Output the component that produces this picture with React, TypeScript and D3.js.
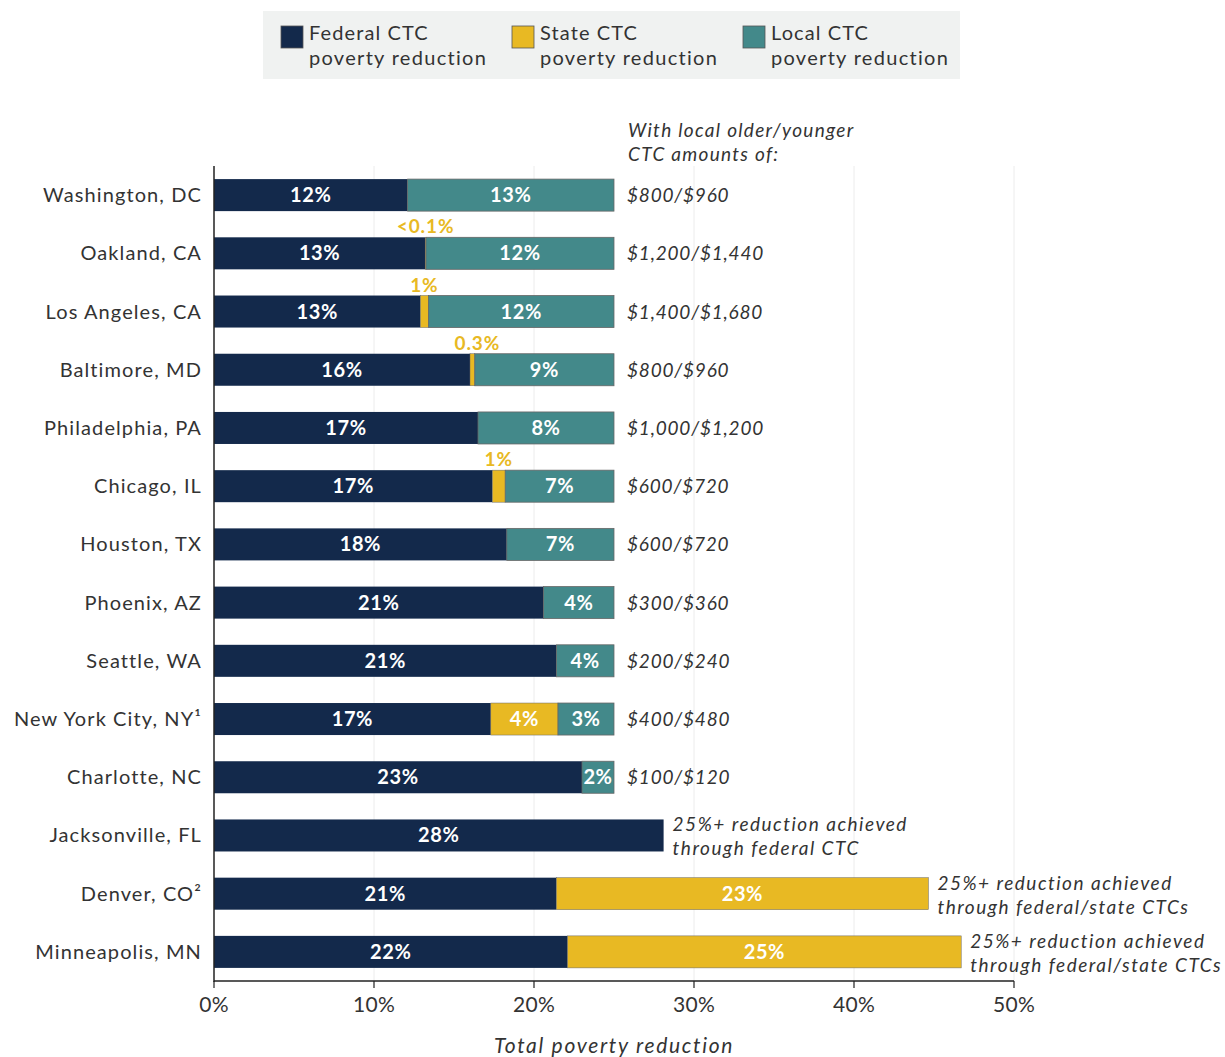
import React from "react";
import * as d3 from "d3";

const cities = [
  "Washington, DC", "Oakland, CA", "Los Angeles, CA", "Baltimore, MD", "Philadelphia, PA",
  "Chicago, IL", "Houston, TX", "Phoenix, AZ", "Seattle, WA", "New York City, NY¹",
  "Charlotte, NC", "Jacksonville, FL", "Denver, CO²", "Minneapolis, MN",
];
const federal = [12.1, 13.2, 12.9, 16.0, 16.5, 17.4, 18.3, 20.6, 21.4, 17.3, 23.0, 28.1, 21.4, 22.1];
const state = [0, 0.05, 0.5, 0.3, 0, 0.8, 0, 0, 0, 4.2, 0, 0, 23.25, 24.6];
const local = [12.9, 11.75, 11.6, 8.7, 8.5, 6.8, 6.7, 4.4, 3.6, 3.5, 2.0, 0, 0, 0];
const federalLabels = ["12%", "13%", "13%", "16%", "17%", "17%", "18%", "21%", "21%", "17%", "23%", "28%", "21%", "22%"];
const stateLabels = ["", "<0.1%", "1%", "0.3%", "", "1%", "", "", "", "4%", "", "", "23%", "25%"];
const localLabels = ["13%", "12%", "12%", "9%", "8%", "7%", "7%", "4%", "4%", "3%", "2%", "", "", ""];
const stateInside = [false, false, false, false, false, false, false, false, false, true, false, false, true, true];
const amounts = [
  "$800/$960", "$1,200/$1,440", "$1,400/$1,680", "$800/$960", "$1,000/$1,200",
  "$600/$720", "$600/$720", "$300/$360", "$200/$240", "$400/$480", "$100/$120",
];
const notes: Record<number, string[]> = {
  11: ["25%+ reduction achieved", "through federal CTC"],
  12: ["25%+ reduction achieved", "through federal/state CTCs"],
  13: ["25%+ reduction achieved", "through federal/state CTCs"],
};
const xTicks = [0, 10, 20, 30, 40, 50];
const legendItems = [
  { key: "Federal CTC", color: "#13294b" },
  { key: "State CTC", color: "#e8b923" },
  { key: "Local CTC", color: "#43898a" },
];

const NAVY = "#13294b";
const YELLOW = "#e8b923";
const TEAL = "#43898a";
const FONT = "Lato, 'Open Sans', sans-serif";

export default function App() {
  const W = 1225, H = 1057;
  const x = d3.scaleLinear().domain([0, 50]).range([214, 1014]);
  const y = d3.scaleBand<number>().domain(d3.range(cities.length)).range([166, 981]).paddingInner(0.45).paddingOuter(0.225);
  const bh = y.bandwidth();
  return (
    <svg width={W} height={H} style={{ position: "absolute", left: 0, top: 0, fontFamily: FONT }}>
      <rect width={W} height={H} fill="#fff" />
      {/* legend */}
      <rect x={263} y={11} width={697} height={68} fill="#f0f2f1" />
      {legendItems.map((l, i) => {
        const lx = [281, 512, 743][i];
        return (
          <g key={l.key}>
            <rect x={lx} y={26} width={22} height={22} fill={l.color} stroke="#555" strokeWidth={0.8} />
            <text x={lx + 28} y={40} fontSize={20} letterSpacing={1.1} fill="#333">{l.key}</text>
            <text x={lx + 28} y={65} fontSize={20} letterSpacing={1.3} fill="#333">poverty reduction</text>
          </g>
        );
      })}
      {/* grid */}
      {xTicks.slice(1).map((t) => (
        <line key={t} x1={x(t)} x2={x(t)} y1={166} y2={981} stroke="#ececec" strokeWidth={1} />
      ))}
      {/* header */}
      <text x={628} y={137} fontSize={19} fontStyle="italic" letterSpacing={1.3} fill="#333">With local older/younger</text>
      <text x={628} y={161} fontSize={19} fontStyle="italic" letterSpacing={1.3} fill="#333">CTC amounts of:</text>
      {cities.map((c, i) => {
        const yy = y(i)!;
        const cy = yy + bh / 2;
        const f0 = 0, f1 = federal[i], s1 = f1 + state[i], l1 = s1 + local[i];
        return (
          <g key={c}>
            <text x={202} y={cy + 7} fontSize={20} letterSpacing={1.1} textAnchor="end" fill="#333">{c}</text>
            <rect x={x(f0)} y={yy} width={x(f1) - x(f0)} height={bh} fill={NAVY} />
            {state[i] > 0 && (
              <rect x={x(f1)} y={yy} width={Math.max(x(s1) - x(f1), 0.8)} height={bh} fill={YELLOW} stroke="#666" strokeWidth={0.5} />
            )}
            {local[i] > 0 && (
              <rect x={x(s1)} y={yy} width={x(l1) - x(s1)} height={bh} fill={TEAL} stroke="#666" strokeWidth={0.8} />
            )}
            <text x={(x(f0) + x(f1)) / 2} y={cy + 7} fontSize={20} fontWeight={700} letterSpacing={0.6} fill="#fff" textAnchor="middle">{federalLabels[i]}</text>
            {stateLabels[i] && stateInside[i] && (
              <text x={(x(f1) + x(s1)) / 2} y={cy + 7} fontSize={20} fontWeight={700} letterSpacing={0.6} fill="#fff" textAnchor="middle">{stateLabels[i]}</text>
            )}
            {stateLabels[i] && !stateInside[i] && (
              <text x={(x(f1) + x(s1)) / 2 + (i === 3 ? 5 : 0)} y={yy - 4} fontSize={19} fontWeight={700} letterSpacing={0.9} fill={YELLOW} textAnchor="middle">{stateLabels[i]}</text>
            )}
            {localLabels[i] && (
              <text x={(x(s1) + x(l1)) / 2} y={cy + 7} fontSize={20} fontWeight={700} letterSpacing={0.6} fill="#fff" textAnchor="middle">{localLabels[i]}</text>
            )}
            {amounts[i] && (
              <text x={627} y={cy + 7} fontSize={19} fontStyle="italic" letterSpacing={0.8} fill="#333">{amounts[i]}</text>
            )}
            {notes[i] && (
              <g>
                <text x={x(l1) + 9} y={cy - 4} fontSize={19} fontStyle="italic" letterSpacing={1.5} fill="#333">{notes[i][0]}</text>
                <text x={x(l1) + 9} y={cy + 20} fontSize={19} fontStyle="italic" letterSpacing={1.5} fill="#333">{notes[i][1]}</text>
              </g>
            )}
          </g>
        );
      })}
      {/* axes */}
      <line x1={214} x2={214} y1={166} y2={982} stroke="#222" strokeWidth={1.5} />
      <line x1={214} x2={1014} y1={981} y2={981} stroke="#222" strokeWidth={1.5} />
      {xTicks.map((t) => (
        <g key={t}>
          <line x1={x(t)} x2={x(t)} y1={981} y2={988} stroke="#222" strokeWidth={1.2} />
          <text x={x(t)} y={1012} fontSize={21} letterSpacing={0.3} textAnchor="middle" fill="#333">{t}%</text>
        </g>
      ))}
      <text x={x(25)} y={1053} fontSize={21} fontStyle="italic" letterSpacing={1.7} textAnchor="middle" fill="#333">Total poverty reduction</text>
    </svg>
  );
}
